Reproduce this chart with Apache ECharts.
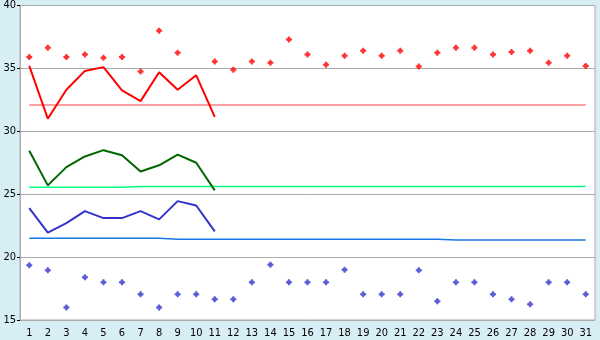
<!DOCTYPE html>
<html>
<head>
<meta charset="utf-8">
<script src="https://cdn.jsdelivr.net/npm/echarts@6/dist/echarts.min.js"></script>
<style>
  html, body { margin: 0; padding: 0; background: #d8eef5; }
  #chart { width: 600px; height: 340px; }
</style>
</head>
<body>
<div id="chart"></div>
<script>
const days = ['1','2','3','4','5','6','7','8','9','10','11','12','13','14','15','16',
    '17','18','19','20','21','22','23','24','25','26','27','28','29','30','31'];

const redLine = [35.2, 31.0, 33.3, 34.8, 35.1, 33.25, 32.4, 34.7, 33.3, 34.45, 31.15];
const greenLine = [28.45, 25.7, 27.15, 28.0, 28.5, 28.1, 26.8, 27.3, 28.15, 27.5, 25.3];
const blueLine = [23.9, 21.95, 22.7, 23.65, 23.1, 23.1, 23.65, 23.0, 24.45, 24.1, 22.05];

const redMean = [32.1, 32.1, 32.1, 32.1, 32.1, 32.1, 32.1, 32.1, 32.1, 32.1, 32.1, 32.1, 32.1, 32.1, 32.1, 32.1,
    32.1, 32.1, 32.1, 32.1, 32.1, 32.1, 32.1, 32.1, 32.1, 32.1, 32.1, 32.1, 32.1, 32.1, 32.1];
const greenMean = [25.55, 25.55, 25.55, 25.55, 25.55, 25.55, 25.62, 25.62, 25.62, 25.62, 25.62, 25.62, 25.62, 25.62, 25.62, 25.62,
    25.62, 25.62, 25.62, 25.62, 25.62, 25.62, 25.62, 25.62, 25.62, 25.62, 25.62, 25.62, 25.62, 25.62, 25.62];
const blueMean = [21.5, 21.5, 21.5, 21.5, 21.5, 21.5, 21.5, 21.5, 21.42, 21.42, 21.42, 21.42, 21.42, 21.42, 21.42, 21.42,
    21.42, 21.42, 21.42, 21.42, 21.42, 21.42, 21.42, 21.35, 21.35, 21.35, 21.35, 21.35, 21.35, 21.35, 21.35];

const redPoints = [35.9, 36.65, 35.9, 36.1, 35.85, 35.9, 34.75, 38.0, 36.25, '-', 35.55, 34.9, 35.55, 35.45, 37.3, 36.1,
    35.3, 36.0, 36.4, 36.0, 36.4, 35.15, 36.25, 36.65, 36.65, 36.1, 36.3, 36.4, 35.45, 36.0, 35.2];
const bluePoints = [19.35, 18.95, 16.0, 18.4, 18.0, 18.0, 17.05, 16.0, 17.05, 17.05, 16.65, 16.65, 18.0, 19.4, 18.0, 18.0,
    18.0, 19.0, 17.05, 17.05, 17.05, 18.95, 16.5, 18.0, 18.0, 17.05, 16.65, 16.25, 18.0, 18.0, 17.05];

const yTicks = { min: 15, max: 40, step: 5 };

// pixel-style plus marker with filled inner corners
const plus = 'path://M2,0H4V1.2H4.8V2H6V4H4.8V4.8H4V6H2V4.8H1.2V4H0V2H1.2V1.2H2Z';
const font = '"DejaVu Sans Condensed", "DejaVu Sans", sans-serif';

function lineSeries(data, color, width) {
    return {
        type: 'line',
        data: data,
        symbol: 'none',
        silent: true,
        lineStyle: { color: color, width: width },
        itemStyle: { color: color }
    };
}

function pointSeries(data, color) {
    return {
        type: 'scatter',
        data: data,
        symbol: plus,
        symbolSize: 6,
        itemStyle: { color: color }
    };
}

let chart = echarts.init(document.getElementById('chart'), null, { renderer: 'canvas' });
chart.setOption({
    animation: false,
    backgroundColor: '#d8eef5',
    grid: {
        left: 20, right: 5, top: 5, bottom: 20,
        show: true, backgroundColor: '#ffffff', borderColor: '#aaaaaa', borderWidth: 1
    },
    xAxis: {
        type: 'category',
        data: days,
        boundaryGap: true,
        axisLine: { lineStyle: { color: '#aaaaaa' } },
        axisTick: { alignWithLabel: true, length: 5, lineStyle: { color: '#000' } },
        axisLabel: { color: '#000', fontFamily: font, fontSize: 11, margin: 8, interval: 0 },
        splitLine: { show: false }
    },
    yAxis: {
        type: 'value',
        min: yTicks.min, max: yTicks.max, interval: yTicks.step,
        axisLine: { show: true, lineStyle: { color: '#aaaaaa' } },
        axisTick: { show: true, length: 3, lineStyle: { color: '#000' } },
        axisLabel: { color: '#000', fontFamily: font, fontSize: 11, margin: 4 },
        splitLine: { lineStyle: { color: '#aaaaaa' } }
    },
    series: [
        lineSeries(redMean, '#ff8080', 1.5),
        lineSeries(greenMean, '#00ff80', 1.5),
        lineSeries(blueMean, '#1a78e6', 1.5),
        lineSeries(redLine, '#ff0000', 2),
        lineSeries(greenLine, '#006600', 2),
        lineSeries(blueLine, '#3333cc', 2),
        pointSeries(redPoints, '#ff0000'),
        pointSeries(bluePoints, '#3333cc')
    ]
});
</script>
</body>
</html>
